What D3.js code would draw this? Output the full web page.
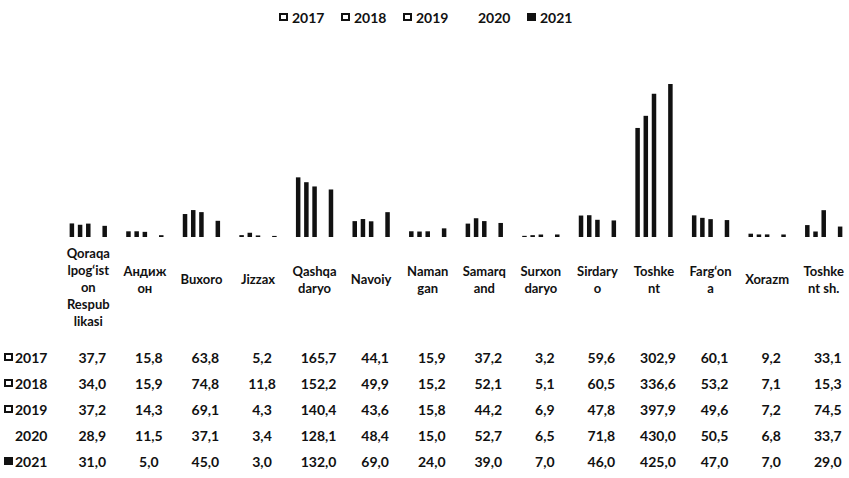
<!DOCTYPE html>
<html>
<head>
<meta charset="utf-8">
<script src="https://cdn.jsdelivr.net/npm/d3@7"></script>
<style>
  body { margin: 0; background: #fff; }
  text { font-family: Lato, "Open Sans", sans-serif; font-weight: bold; fill: #111; }
</style>
</head>
<body>
<script>
//Width and height
var w = 849;
var h = 478;

//Data
var years = ["2017", "2018", "2019", "2020", "2021"];
var categories = [
  "Qoraqa|lpog‘ist|on|Respub|likasi",
  "Андиж|он",
  "Buxoro",
  "Jizzax",
  "Qashqa|daryo",
  "Navoiy",
  "Naman|gan",
  "Samarq|and",
  "Surxon|daryo",
  "Sirdary|o",
  "Toshke|nt",
  "Farg‘on|a",
  "Xorazm",
  "Toshke|nt sh."
];
var values2017 = [37.7, 15.8, 63.8, 5.2, 165.7, 44.1, 15.9, 37.2, 3.2, 59.6, 302.9, 60.1, 9.2, 33.1];
var values2018 = [34.0, 15.9, 74.8, 11.8, 152.2, 49.9, 15.2, 52.1, 5.1, 60.5, 336.6, 53.2, 7.1, 15.3];
var values2019 = [37.2, 14.3, 69.1, 4.3, 140.4, 43.6, 15.8, 44.2, 6.9, 47.8, 397.9, 49.6, 7.2, 74.5];
var values2020 = [28.9, 11.5, 37.1, 3.4, 128.1, 48.4, 15.0, 52.7, 6.5, 71.8, 430.0, 50.5, 6.8, 33.7];
var values2021 = [31.0, 5.0, 45.0, 3.0, 132.0, 69.0, 24.0, 39.0, 7.0, 46.0, 425.0, 47.0, 7.0, 29.0];

var series = [values2017, values2018, values2019, values2020, values2021];
// 2020 series is printed white in the scan
var fills = ["#111", "#111", "#111", "#fff", "#111"];

var fmt = function (v) { return d3.format(".1f")(v).replace(".", ","); };

//Scales
var xScale = d3.scaleBand().domain(d3.range(categories.length)).range([60, 852]);
var xInner = d3.scaleBand().domain(years).range([-20.5, 20.5]);
var yScale = d3.scaleLinear().domain([0, 500]).range([237, 57]);
var barW = 4.5;

var center = function (i) { return xScale(i) + xScale.bandwidth() / 2; };

var svg = d3.select("body").append("svg").attr("width", w).attr("height", h);

//Bars
years.forEach(function (yr, s) {
  svg.append("g")
    .selectAll("rect")
    .data(series[s])
    .enter()
    .append("rect")
    .attr("x", function (d, i) { return center(i) + xInner(yr) + (xInner.bandwidth() - barW) / 2; })
    .attr("y", function (d) { return yScale(d); })
    .attr("width", barW)
    .attr("height", function (d) { return yScale(0) - yScale(d); })
    .attr("fill", fills[s]);
});

//Category labels
var lineH = 17;
categories.forEach(function (c, i) {
  var lines = c.split("|");
  var y0 = Math.max(258, 284 - (lines.length - 1) * lineH / 2);
  var t = svg.append("text")
    .attr("text-anchor", "middle")
    .attr("font-size", 13);
  lines.forEach(function (ln, k) {
    t.append("tspan").attr("x", center(i)).attr("y", y0 + k * lineH).text(ln);
  });
});

//Marker square used in legend and table
function marker(g, x, y, s) {
  if (s === 3) return;
  g.append("rect")
    .attr("x", x).attr("y", y)
    .attr("width", 7).attr("height", 6)
    .attr("fill", s === 4 ? "#111" : "#fff")
    .attr("stroke", "#111")
    .attr("stroke-width", 2);
}

//Legend
var legend = svg.append("g");
years.forEach(function (yr, s) {
  var lx = 280 + s * 62;
  marker(legend, lx, 14, s);
  legend.append("text").attr("x", lx + 12).attr("y", 23).attr("font-size", 14).text(yr);
});

//Data table
years.forEach(function (yr, s) {
  var ry = 363 + s * 26;
  marker(svg, 5, ry - 9, s);
  svg.append("text").attr("x", 15).attr("y", ry).attr("font-size", 14).text(yr);
  svg.append("g")
    .selectAll("text")
    .data(series[s])
    .enter()
    .append("text")
    .attr("x", function (d, i) { return center(i) + 4; })
    .attr("y", ry)
    .attr("text-anchor", "middle")
    .attr("font-size", 14)
    .text(fmt);
});
</script>
</body>
</html>
